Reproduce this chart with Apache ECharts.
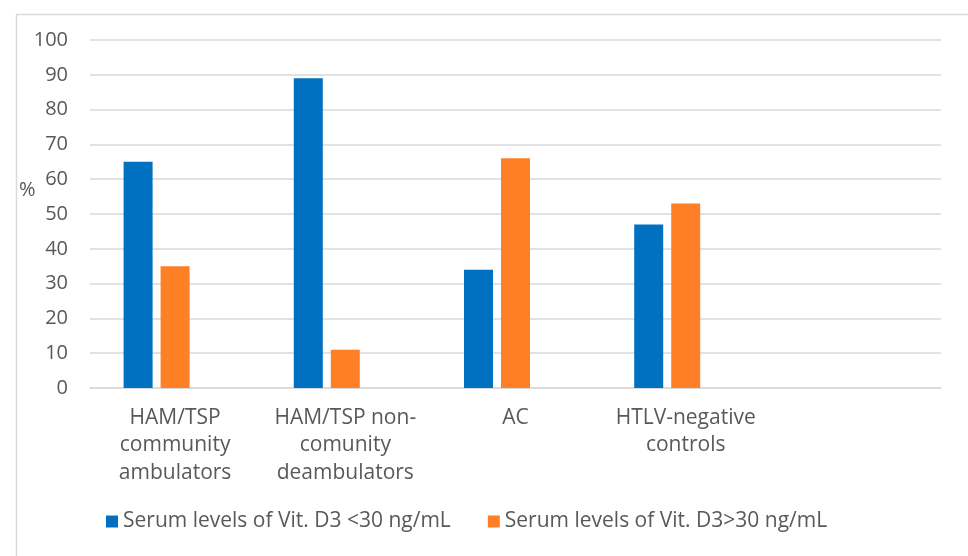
<!DOCTYPE html>
<html><head><meta charset="utf-8">
<script src="https://cdn.jsdelivr.net/npm/echarts@6/dist/echarts.min.js"></script>
<style>html,body{margin:0;padding:0;background:#fff}#c{width:968px;height:556px}</style>
</head><body><div id="c"></div>
<script>
const categories = ['HAM/TSP\ncommunity\nambulators', 'HAM/TSP non-\ncomunity\ndeambulators', 'AC', 'HTLV-negative\ncontrols', ''];
const seriesNames = ['Serum levels of Vit. D3 <30 ng/mL', 'Serum levels of Vit. D3>30 ng/mL'];
const below30 = [65, 89, 34, 47, null];
const above30 = [35, 11, 66, 53, null];
const emptySeries = [null, null, null, null, null];
const yTicks = [0, 100, 10];

const chart = echarts.init(document.getElementById('c'));
const font = 'Open Sans';
chart.setOption({
  animation: false,
  textStyle: { fontFamily: font },
  graphic: [
    { type: 'rect', left: 14, top: 12, shape: { width: 1000, height: 600 }, style: { fill: 'none', stroke: '#d9d9d9', lineWidth: 1.5 } },
    { type: 'text', left: 19, top: 180, style: { text: '%', fill: '#595959', font: '20px "Open Sans"' } }
  ],
  grid: { left: 90, right: 27, top: 40, bottom: 168, containLabel: false },
  legend: {
    data: seriesNames, bottom: 19, left: 101, itemWidth: 12, itemHeight: 12, itemGap: 37,
    icon: 'rect', textStyle: { color: '#595959', fontSize: 21, fontFamily: font }
  },
  xAxis: {
    type: 'category', data: categories,
    axisLine: { lineStyle: { color: '#d9d9d9', width: 1.5 } },
    axisTick: { show: false },
    axisLabel: { color: '#595959', fontSize: 21, lineHeight: 27.5, margin: 16, interval: 0 }
  },
  yAxis: {
    type: 'value', min: yTicks[0], max: yTicks[1], interval: yTicks[2],
    axisLine: { show: false }, axisTick: { show: false },
    axisLabel: { color: '#595959', fontSize: 20, margin: 22 },
    splitLine: { lineStyle: { color: '#d9d9d9', width: 1.5 } }
  },
  series: [
    { name: seriesNames[0], type: 'bar', data: below30, barWidth: 29, barGap: '27.6%', itemStyle: { color: '#0070C0' } },
    { name: seriesNames[1], type: 'bar', data: above30, barWidth: 29, barGap: '27.6%', itemStyle: { color: '#FF7F27' } },
    { name: 'empty', type: 'bar', data: emptySeries, barWidth: 29, barGap: '27.6%' }
  ]
});
</script></body></html>
